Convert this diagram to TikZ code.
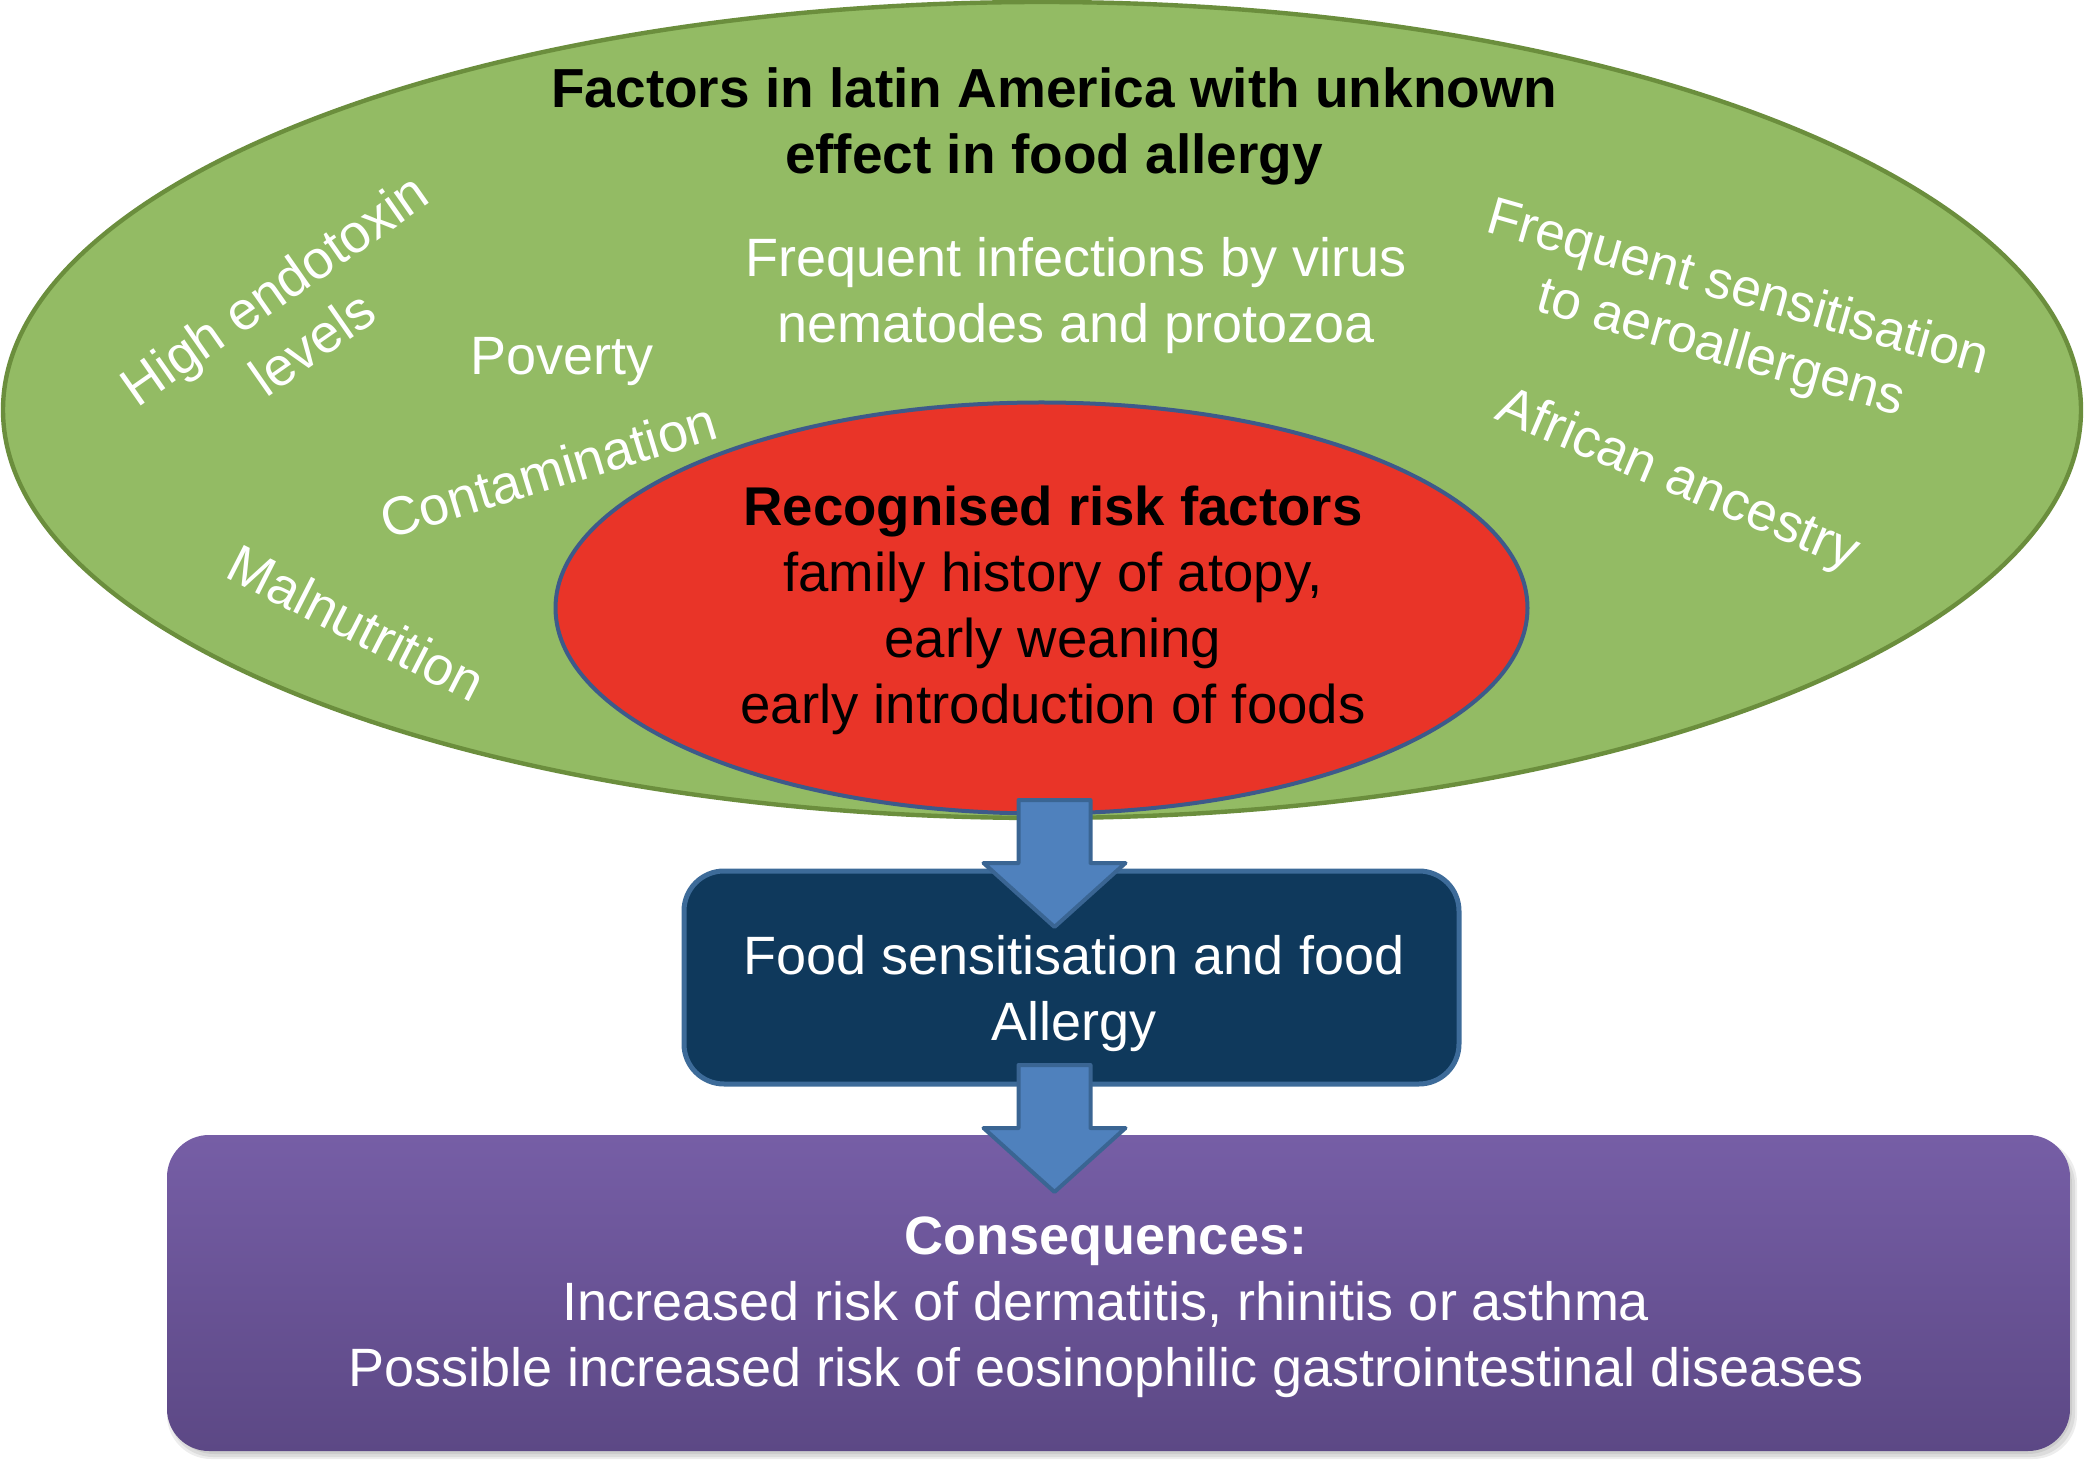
\documentclass[tikz,border=0pt]{standalone}
\usepackage{fontspec}
\setmainfont{Liberation Sans}
\usetikzlibrary{shapes.geometric}
\definecolor{greenfill}{HTML}{93BB64}
\definecolor{greenline}{HTML}{6B8E3D}
\definecolor{redfill}{HTML}{E93428}
\definecolor{redline}{HTML}{3D5A8A}
\definecolor{navyfill}{HTML}{0F395C}
\definecolor{navyline}{HTML}{3D6B99}
\definecolor{arrowfill}{HTML}{4F81BD}
\definecolor{arrowline}{HTML}{3A6593}
\definecolor{purtop}{HTML}{765EA6}
\definecolor{purbot}{HTML}{5C4885}
\begin{document}
\begin{tikzpicture}[x=0.5pt,y=-0.5pt,
  txt/.style={font=\fontsize{27}{33}\selectfont, align=center, inner sep=0pt},
  wtxt/.style={txt, text=white},
  outerell/.style={ellipse, draw=greenline, fill=greenfill, line width=2.2pt, inner sep=0pt,
    minimum width=1039pt, minimum height=408pt},
  innerell/.style={ellipse, draw=redline, fill=redfill, line width=2pt, inner sep=0pt,
    minimum width=486pt, minimum height=205.5pt},
  navybox/.style={rectangle, rounded corners=20pt, draw=navyline, fill=navyfill, line width=2.5pt,
    minimum width=387.5pt, minimum height=106.5pt, inner sep=0pt},
  purplebox/.style={rectangle, rounded corners=21pt, top color=purtop, bottom color=purbot,
    minimum width=951.5pt, minimum height=158pt, inner sep=0pt},
  shadowbox/.style={rectangle, rounded corners=22pt, fill=black, opacity=0.07,
    minimum height=158pt, inner sep=0pt},
  arrowstyle/.style={draw=arrowline, fill=arrowfill, line width=2pt, line join=round},
  downarrow/.pic={\draw[arrowstyle] (-36,0) -- (36,0) -- (36,63) -- (71,63) -- (0,127)
    -- (-71,63) -- (-36,63) -- cycle;}
]
\useasboundingbox (0,0) rectangle (2084,1470);
% shapes
\node[outerell] (green) at (1042,410) {};
\node[innerell] (red) at (1041.5,608) {};
\node[navybox] (navy) at (1071.5,977.5) {};
\node[shadowbox, minimum width=953pt] (sh1) at (1122,1299) {};
\node[shadowbox, minimum width=955pt, minimum height=160pt] (sh2) at (1122,1299) {};
\node[shadowbox, minimum width=951pt, minimum height=157pt] (sh3) at (1121,1297) {};
\node[purplebox] (purple) at (1118.5,1293) {};
% block arrows
\coordinate (a1) at (1054.5,800);
\coordinate (a2) at (1054.5,1065);
\pic at (a1) {downarrow};
\pic at (a2) {downarrow};
% texts
\node[txt, font=\fontsize{27.5}{33}\selectfont\bfseries] (title) at (1054,126)
  {Factors in latin America with unknown\\effect in food allergy};
\node[wtxt] (infect) at (1076,296) {Frequent infections by virus\\nematodes and protozoa};
\node[wtxt, anchor=base] (poverty) at (562,375) {Poverty};
\node[wtxt, rotate=35] (endo) at (293,316) {High endotoxin\\levels};
\node[wtxt, anchor=base, rotate=17] (contam) at (554,489) {Contamination};
\node[wtxt, anchor=base, rotate=-27] (malnu) at (348,640) {Malnutrition};
\node[wtxt, font=\fontsize{26.5}{31}\selectfont, rotate=-16] (aero) at (1729,320)
  {Frequent sensitisation\\to aeroallergens};
\node[wtxt, anchor=base, rotate=-23] (african) at (1672,494) {African ancestry};
\node[txt, font=\fontsize{27.3}{33}\selectfont] (risk) at (1053,610) {\textbf{Recognised risk factors}\\family history of atopy,\\early weaning\\early introduction of foods};
\node[wtxt] (foodtxt) at (1074,994) {Food sensitisation and food\\Allergy};
\node[wtxt] (constxt) at (1106,1307) {\textbf{Consequences:}\\Increased risk of dermatitis, rhinitis or asthma\\Possible increased risk of eosinophilic gastrointestinal diseases};
\end{tikzpicture}
\end{document}
